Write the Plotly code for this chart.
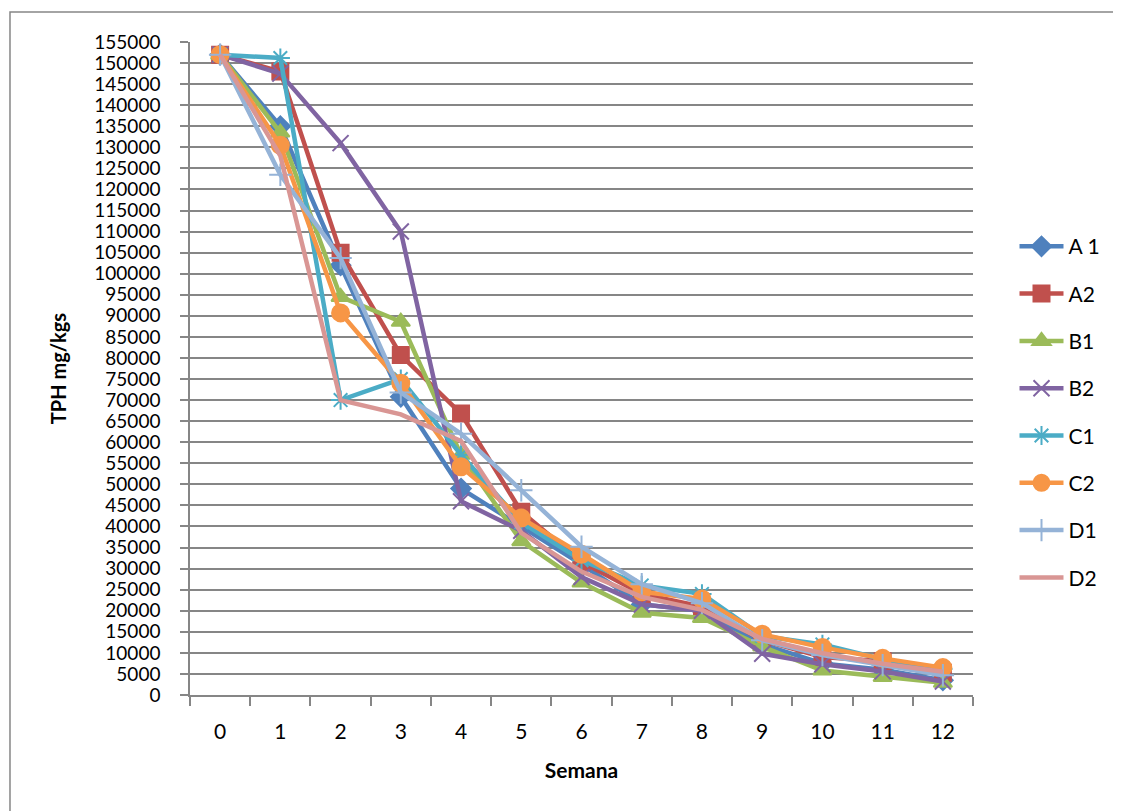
import plotly.graph_objects as go

weeks = ["0", "1", "2", "3", "4", "5", "6", "7", "8", "9", "10", "11", "12"]

A1 = [152000, 135000, 102000, 70800, 49000, 40000, 31000, 21500, 20000, 12000, 7500, 6000, 3500]
A2 = [152000, 148000, 105000, 80700, 66800, 43500, 31600, 24000, 21000, 13000, 9000, 8000, 5300]
B1 = [152000, 133500, 94500, 88600, 57000, 36500, 26700, 19500, 18300, 11500, 5800, 4300, 2900]
B2 = [152000, 147500, 131000, 110000, 46000, 39000, 28000, 21500, 20000, 9800, 7300, 5600, 3200]
C1 = [152000, 151200, 70000, 75000, 57000, 41000, 32000, 26000, 24000, 14000, 12000, 8500, 6200]
C2 = [152000, 130500, 90700, 74000, 54200, 42000, 33400, 24500, 22800, 14400, 11300, 8700, 6500]
D1 = [152000, 123500, 103700, 71800, 62000, 48600, 35200, 26300, 21800, 13000, 9500, 7100, 4700]
D2 = [152000, 128000, 70000, 66600, 60300, 38500, 29300, 23300, 20200, 13300, 9900, 7400, 5500]

series_names = ["A 1", "A2", "B1", "B2", "C1", "C2", "D1", "D2"]
series_values = [A1, A2, B1, B2, C1, C2, D1, D2]
colors = ["#4F81BD", "#C0504D", "#9BBB59", "#8064A2", "#4BACC6", "#F79646", "#95B3D7", "#D99694"]
symbols = ["diamond", "square", "triangle-up", "x-thin-open", "asterisk-open", "circle", "cross-thin-open", "circle"]
sizes = [15, 16, 16, 16, 16, 17, 16, 0]

FONT = "Lato"

fig = go.Figure()
for i, (name, vals) in enumerate(zip(series_names, series_values)):
    fig.add_trace(go.Scatter(
        x=weeks, y=vals, name=name,
        mode="lines+markers" if sizes[i] > 0 else "lines",
        line=dict(color=colors[i], width=4.5),
        marker=dict(symbol=symbols[i], size=sizes[i], color=colors[i],
                    line=dict(color=colors[i], width=2)),
        legendgroup=name,
    ))

fig.update_layout(
    width=1121, height=811,
    paper_bgcolor="white", plot_bgcolor="white",
    margin=dict(l=182, r=156, t=34, b=124, autoexpand=False),
    font=dict(family=FONT, size=20, color="black"),
    showlegend=True,
    legend=dict(x=1.053, y=0.718, xanchor="left", yanchor="top",
                font=dict(family=FONT, size=21, color="black"),
                tracegroupgap=17, itemwidth=44, bgcolor="rgba(0,0,0,0)"),
    xaxis=dict(type="category", categoryorder="array", categoryarray=weeks,
               range=[-0.5, 12.5], showgrid=False, showline=True, automargin=False,
               linecolor="#868686", linewidth=1.5, ticks="outside",
               tickson="boundaries", ticklen=9, tickcolor="#868686", tickwidth=1.5,
               ticklabelstandoff=17,
               tickfont=dict(family=FONT, size=21),
               title=dict(text="<b>Semana</b>", font=dict(family=FONT, size=21), standoff=21)),
    yaxis=dict(range=[0, 155000], dtick=5000, tick0=0, tickformat="d", showgrid=True,
               gridcolor="#868686", gridwidth=1.5, showline=True, automargin=False,
               linecolor="#868686", linewidth=1.5, ticks="outside", ticklen=8,
               tickcolor="#868686", tickwidth=1.5, zeroline=False,
               ticklabelstandoff=16,
               tickfont=dict(family=FONT, size=19),
               title=dict(text="<b>TPH mg/kgs</b>", font=dict(family=FONT, size=20), standoff=22)),
    shapes=[dict(type="rect", xref="paper", yref="paper",
                 x0=-0.2299, x1=1.1813, y0=-0.25, y1=1.0459,
                 line=dict(color="#868686", width=1.5), fillcolor="rgba(0,0,0,0)",
                 layer="below")],
)

fig.write_html("out.html")
